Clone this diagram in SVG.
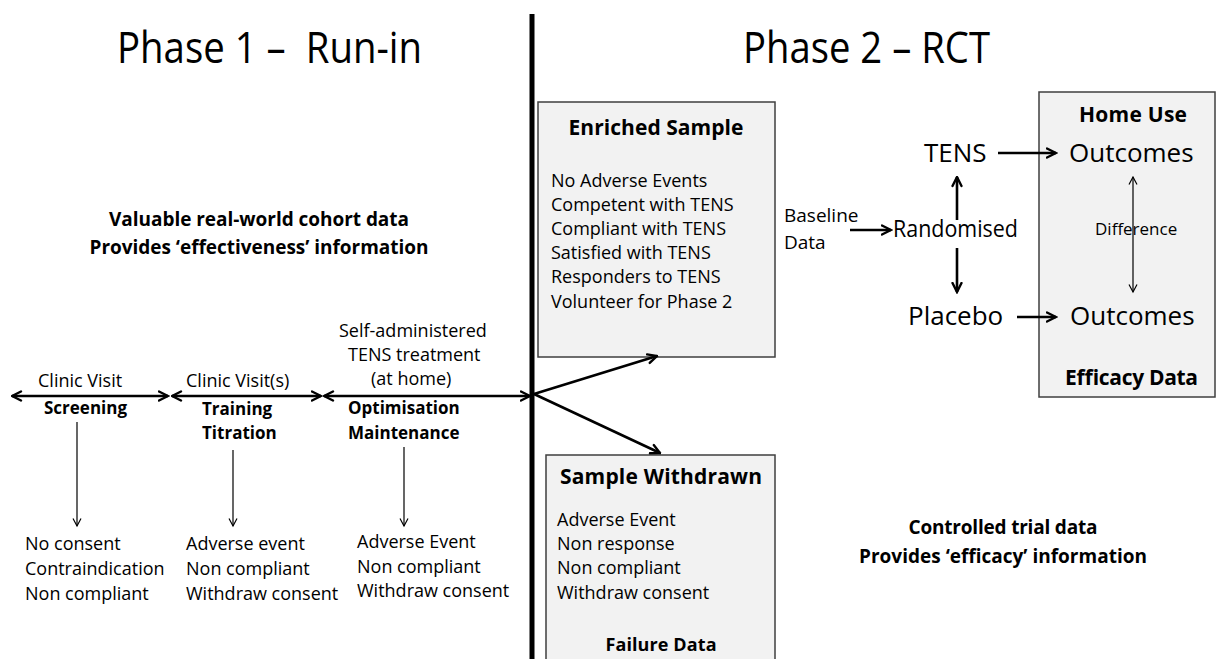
<svg xmlns="http://www.w3.org/2000/svg" width="1216" height="659" viewBox="0 0 1216 659">
<style>
text{font-family:"Open Sans","Noto Sans","Liberation Sans",sans-serif;fill:#000}
.title{font-size:44px;white-space:pre}
.t{font-size:18px}
.b{font-size:17px;font-weight:bold}
.cap{font-size:19px;font-weight:bold}
.hd{font-size:21px;font-weight:bold}
.lg{font-size:26px}
.box{fill:#f2f2f2;stroke:#3f3f3f;stroke-width:1.5}
.thick{stroke:#000;stroke-width:2.6;fill:none}
.thin{stroke:#000;stroke-width:1.2;fill:none}
</style>
<defs>
<marker id="ah" viewBox="0 0 12 12" markerWidth="12" markerHeight="12" refX="10.5" refY="6" orient="auto-start-reverse" markerUnits="userSpaceOnUse">
<path d="M1.5,1.5 L10.5,6 L1.5,10.5" fill="none" stroke="#000" stroke-width="2.4" stroke-linecap="round" stroke-linejoin="miter"/>
</marker>
<marker id="as" viewBox="0 0 10 10" markerWidth="10" markerHeight="10" refX="8.5" refY="5" orient="auto-start-reverse" markerUnits="userSpaceOnUse">
<path d="M1,1 L8.5,5 L1,9" fill="none" stroke="#000" stroke-width="1.2"/>
</marker>
</defs>
<rect width="1216" height="659" fill="#fff"/>

<g id="titles">
<text class="title" x="117" y="63" textLength="305" lengthAdjust="spacingAndGlyphs" xml:space="preserve">Phase 1 –  Run-in</text>
<text class="title" x="743" y="63" textLength="247" lengthAdjust="spacingAndGlyphs">Phase 2 – RCT</text>
</g>

<g id="divider">
<line x1="532" y1="14" x2="532" y2="659" stroke="#000" stroke-width="5"/>
</g>

<g id="phase1-caption">
<text class="cap" x="259" y="226" text-anchor="middle" textLength="300">Valuable real-world cohort data</text>
<text class="cap" x="259" y="254" text-anchor="middle" textLength="339">Provides ‘effectiveness’ information</text>
</g>

<g id="screening">
<text class="t" x="38" y="387">Clinic Visit</text>
<text class="b" x="44" y="414">Screening</text>
</g>
<g id="training">
<text class="t" x="186" y="387">Clinic Visit(s)</text>
<text class="b" x="202" y="415">Training</text>
<text class="b" x="202" y="439">Titration</text>
</g>
<g id="home">
<text class="t" x="339" y="337">Self-administered</text>
<text class="t" x="348" y="361">TENS treatment</text>
<text class="t" x="371" y="385">(at home)</text>
<text class="b" x="348" y="414">Optimisation</text>
<text class="b" x="348" y="439">Maintenance</text>
</g>

<g id="drop1">
<text class="t" x="25" y="550">No consent</text>
<text class="t" x="25" y="575">Contraindication</text>
<text class="t" x="25" y="600">Non compliant</text>
</g>
<g id="drop2">
<text class="t" x="186" y="550">Adverse event</text>
<text class="t" x="186" y="575">Non compliant</text>
<text class="t" x="186" y="600">Withdraw consent</text>
</g>
<g id="drop3">
<text class="t" x="357" y="548">Adverse Event</text>
<text class="t" x="357" y="573">Non compliant</text>
<text class="t" x="357" y="597">Withdraw consent</text>
</g>

<g id="enriched">
<rect class="box" x="538" y="102" width="237" height="255"/>
<text class="hd" x="656" y="135" text-anchor="middle" textLength="175">Enriched Sample</text>
<text class="t" x="551" y="187">No Adverse Events</text>
<text class="t" x="551" y="211">Competent with TENS</text>
<text class="t" x="551" y="235">Compliant with TENS</text>
<text class="t" x="551" y="259">Satisfied with TENS</text>
<text class="t" x="551" y="283">Responders to TENS</text>
<text class="t" x="551" y="308">Volunteer for Phase 2</text>
</g>

<g id="withdrawn">
<rect class="box" x="546" y="455" width="229" height="215"/>
<text class="hd" x="661" y="484" text-anchor="middle" textLength="202">Sample Withdrawn</text>
<text class="t" x="557" y="526">Adverse Event</text>
<text class="t" x="557" y="550">Non response</text>
<text class="t" x="557" y="574">Non compliant</text>
<text class="t" x="557" y="599">Withdraw consent</text>
<text class="b" x="661" y="651" text-anchor="middle" style="font-size:18px" textLength="111">Failure Data</text>
</g>

<g id="baseline">
<text class="t" x="784" y="222" style="font-size:19px">Baseline</text>
<text class="t" x="784" y="249" style="font-size:19px">Data</text>
</g>
<g id="randomised">
<text class="lg" x="893" y="237" style="font-size:24px" textLength="125" lengthAdjust="spacingAndGlyphs">Randomised</text>
</g>
<g id="tens">
<text class="lg" x="924" y="162">TENS</text>
</g>
<g id="placebo">
<text class="lg" x="908" y="325">Placebo</text>
</g>

<g id="outcomes">
<rect class="box" x="1039" y="92" width="176" height="305"/>
<text class="hd" x="1133" y="122" text-anchor="middle" textLength="108">Home Use</text>
<text class="lg" x="1069" y="162">Outcomes</text>
<text class="lg" x="1070" y="325">Outcomes</text>
<text class="t" x="1095" y="235" style="font-size:17px">Difference</text>
<text class="hd" x="1131.5" y="385" text-anchor="middle" textLength="133">Efficacy Data</text>
</g>

<g id="phase2-caption">
<text class="cap" x="1003" y="534" text-anchor="middle" textLength="189">Controlled trial data</text>
<text class="cap" x="1003" y="563" text-anchor="middle" textLength="288">Provides ‘efficacy’ information</text>
</g>

<g id="connectors">
<line class="thick" x1="12" y1="396" x2="168" y2="396" marker-start="url(#ah)" marker-end="url(#ah)"/>
<line class="thick" x1="172" y1="396" x2="321" y2="396" marker-start="url(#ah)" marker-end="url(#ah)"/>
<line class="thick" x1="324" y1="396" x2="530" y2="396" marker-start="url(#ah)" marker-end="url(#ah)"/>
<line class="thin" x1="77" y1="422" x2="77" y2="526" marker-end="url(#as)"/>
<line class="thin" x1="233" y1="450" x2="233" y2="526" marker-end="url(#as)"/>
<line class="thin" x1="404" y1="447" x2="404" y2="526" marker-end="url(#as)"/>
<line class="thick" x1="534" y1="394" x2="657" y2="356" marker-end="url(#ah)"/>
<line class="thick" x1="534" y1="394" x2="660" y2="453" marker-end="url(#ah)"/>
<line class="thick" x1="850" y1="230" x2="891" y2="230" marker-end="url(#ah)"/>
<line class="thick" x1="998" y1="153" x2="1056" y2="153" marker-end="url(#ah)"/>
<line class="thick" x1="957" y1="220" x2="957" y2="177" marker-end="url(#ah)"/>
<line class="thick" x1="957" y1="248" x2="957" y2="292" marker-end="url(#ah)"/>
<line class="thick" x1="1017" y1="317" x2="1056" y2="317" marker-end="url(#ah)"/>
<line class="thin" x1="1133" y1="177" x2="1133" y2="292" marker-start="url(#as)" marker-end="url(#as)"/>
</g>
</svg>
